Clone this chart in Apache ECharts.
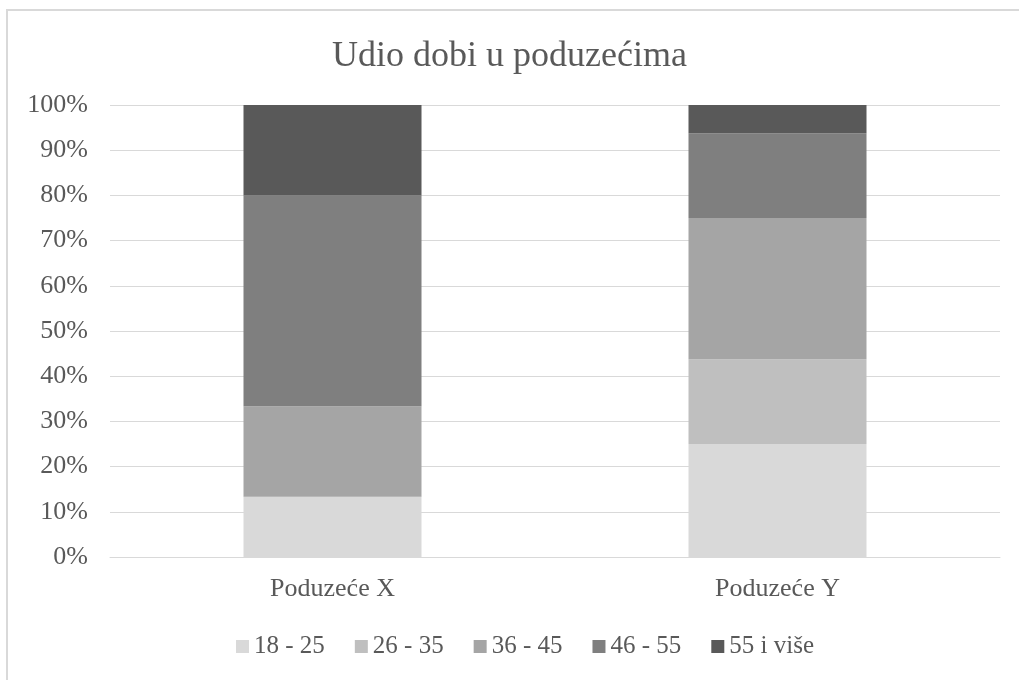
<!DOCTYPE html>
<html>
<head>
<meta charset="utf-8">
<script src="https://cdn.jsdelivr.net/npm/echarts@6/dist/echarts.min.js"></script>
<style>
  html, body { margin: 0; padding: 0; background: #fff; }
  #main { width: 1019px; height: 680px; }
</style>
</head>
<body>
<div id="main"></div>
<script>
// podaci
var companies = ['Poduzeće X', 'Poduzeće Y'];
var ageGroups = ['18 - 25', '26 - 35', '36 - 45', '46 - 55', '55 i više'];
var age18_25 = [13.33, 25];
var age26_35 = [0, 18.75];
var age36_45 = [20, 31.25];
var age46_55 = [46.67, 18.75];
var age55plus = [20, 6.25];
var groupColors = ['#d9d9d9', '#bfbfbf', '#a5a5a5', '#7f7f7f', '#595959'];

var values = [age18_25, age26_35, age36_45, age46_55, age55plus];
var font = '"Liberation Serif", "Times New Roman", serif';

var myChart = echarts.init(document.getElementById('main'));

var series = ageGroups.map(function (name, i) {
    return {
        name: name,
        type: 'bar',
        stack: 'total',
        barWidth: '40%',
        data: values[i],
        itemStyle: { color: groupColors[i] }
    };
});

myChart.setOption({
    animation: false,
    color: groupColors,
    graphic: [{
        type: 'rect',
        shape: { x: 7, y: 10, width: 1200, height: 900 },
        style: { fill: 'none', stroke: '#d9d9d9', lineWidth: 2 },
        silent: true
    }],
    title: {
        text: 'Udio dobi u poduzećima',
        left: 'center',
        top: 34,
        textStyle: { fontFamily: font, fontSize: 36, fontWeight: 'normal', color: '#595959' }
    },
    legend: {
        top: 629,
        left: 231,
        itemWidth: 13,
        itemHeight: 13,
        itemGap: 30,
        icon: 'rect',
        textStyle: { fontFamily: font, fontSize: 25, color: '#595959' },
        data: ageGroups
    },
    grid: { left: 110, right: 19, top: 105, bottom: 123 },
    xAxis: {
        type: 'category',
        data: companies,
        axisLine: { lineStyle: { color: '#d9d9d9', width: 1 } },
        axisTick: { show: false },
        axisLabel: { fontFamily: font, fontSize: 26, color: '#595959', margin: 19 }
    },
    yAxis: {
        type: 'value',
        min: 0,
        max: 100,
        interval: 10,
        axisLine: { show: false },
        axisTick: { show: false },
        splitLine: { lineStyle: { color: '#d9d9d9', width: 1 } },
        axisLabel: { formatter: '{value}%', fontFamily: font, fontSize: 26, color: '#595959', margin: 22 }
    },
    series: series
});
</script>
</body>
</html>
